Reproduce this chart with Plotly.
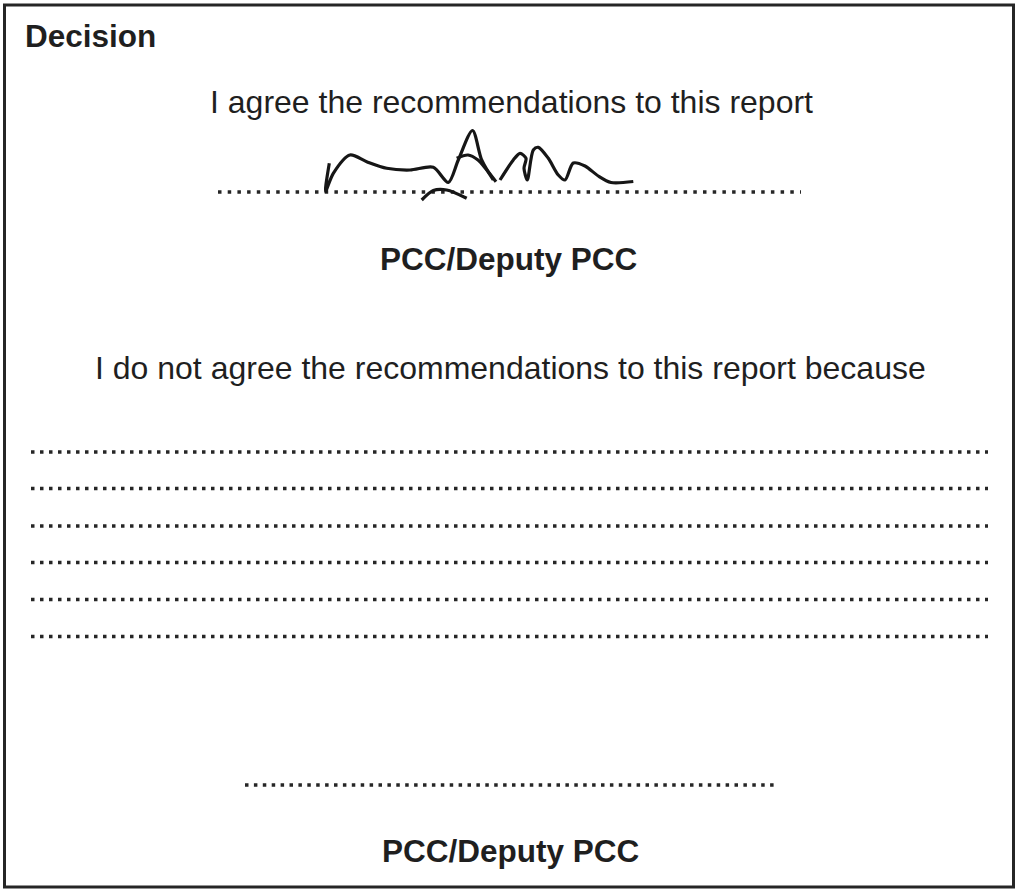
import plotly.graph_objects as go

W, H = 1017, 889

# ---- text content ----
heading = "Decision"
agree_text = "I agree the recommendations to this report"
disagree_text = "I do not agree the recommendations to this report because"
role_label = "PCC/Deputy PCC"

# ---- dotted leader rows: (y, x_start, x_end, dot spacing) ----
sig_line = (192, 218, 801, 9.7)
reason_rows_y = [452, 488.5, 526, 562.5, 599.5, 636.5]
reason_x = (31, 988)
reason_spacing = 9.0
bottom_line = (785, 245, 774, 8.9)

# ---- signature strokes (page pixel coordinates) ----
sig_s1_x = [329.3, 325.5, 333.3, 350, 366.7, 386.7, 410, 433.3, 448.3, 458.3, 472.5, 481.7, 493.3]
sig_s1_y = [163.3, 191.5, 173.3, 155, 161.7, 168.3, 170, 167.3, 182.5, 160, 130.5, 160, 180]
sig_s2_x = [456.7, 468, 478, 486, 496]
sig_s2_y = [158.3, 155, 160, 169, 181.7]
sig_s3_x = [500, 513.3, 520, 526, 524, 527.3, 533.3, 538.3, 548.3, 558.3, 565, 573.3, 585, 598.3, 611, 633.3]
sig_s3_y = [180, 160, 153.3, 158.3, 168.3, 180, 150, 147.3, 158.3, 175, 180, 163, 166, 176, 182.5, 181.5]
sig_s4_x = [421.7, 433.3, 446.7, 466.7]
sig_s4_y = [200, 190.5, 190, 198.3]

ink = "#161616"
text_col = "#1f1f1f"
font_reg = dict(family="Liberation Sans, Arial, sans-serif", size=32, color=text_col)
font_bold = dict(family="Liberation Sans, Arial, sans-serif", size=31.5, color=text_col)

fig = go.Figure()


def dotted(y, x0, x1, gap):
    fig.add_trace(go.Scatter(
        x=[x0, x1], y=[y, y], mode="lines",
        line=dict(color="#262626", width=3.5, dash=f"3.5px,{gap - 3.5:.1f}px"),
        hoverinfo="skip", showlegend=False))


dotted(*sig_line)
for ry in reason_rows_y:
    dotted(ry, reason_x[0], reason_x[1], reason_spacing)
dotted(*bottom_line)

for sx, sy in [(sig_s1_x, sig_s1_y), (sig_s2_x, sig_s2_y), (sig_s3_x, sig_s3_y), (sig_s4_x, sig_s4_y)]:
    fig.add_trace(go.Scatter(
        x=sx, y=sy, mode="lines",
        line=dict(color=ink, width=3.2, shape="spline", smoothing=0.8),
        hoverinfo="skip", showlegend=False))

# outer frame
fig.add_shape(type="rect", x0=4.5, y0=5, x1=1013.5, y1=887,
              xref="x", yref="y", line=dict(color="#262626", width=3),
              fillcolor="rgba(0,0,0,0)")

annos = [
    dict(text="<b>" + heading + "</b>", x=23, y=36, xanchor="left", font=font_bold),
    dict(text=agree_text, x=511, y=102, xanchor="center", font=font_reg),
    dict(text="<b>" + role_label + "</b>", x=508.5, y=259, xanchor="center", font=font_bold),
    dict(text=disagree_text, x=510, y=368, xanchor="center", font=font_reg),
    dict(text="<b>" + role_label + "</b>", x=510, y=850.5, xanchor="center", font=font_bold),
]
for a in annos:
    fig.add_annotation(xref="x", yref="y", yanchor="middle", showarrow=False, **a)

fig.update_layout(
    width=W, height=H,
    margin=dict(l=0, r=0, t=0, b=0),
    paper_bgcolor="white", plot_bgcolor="white",
    xaxis=dict(range=[0, W], visible=False, fixedrange=True),
    yaxis=dict(range=[H, 0], visible=False, fixedrange=True),
    showlegend=False,
)

fig.write_html("out.html", config={"displayModeBar": False},
               post_script="document.body.style.margin='0px';document.body.style.overflow='hidden';")
